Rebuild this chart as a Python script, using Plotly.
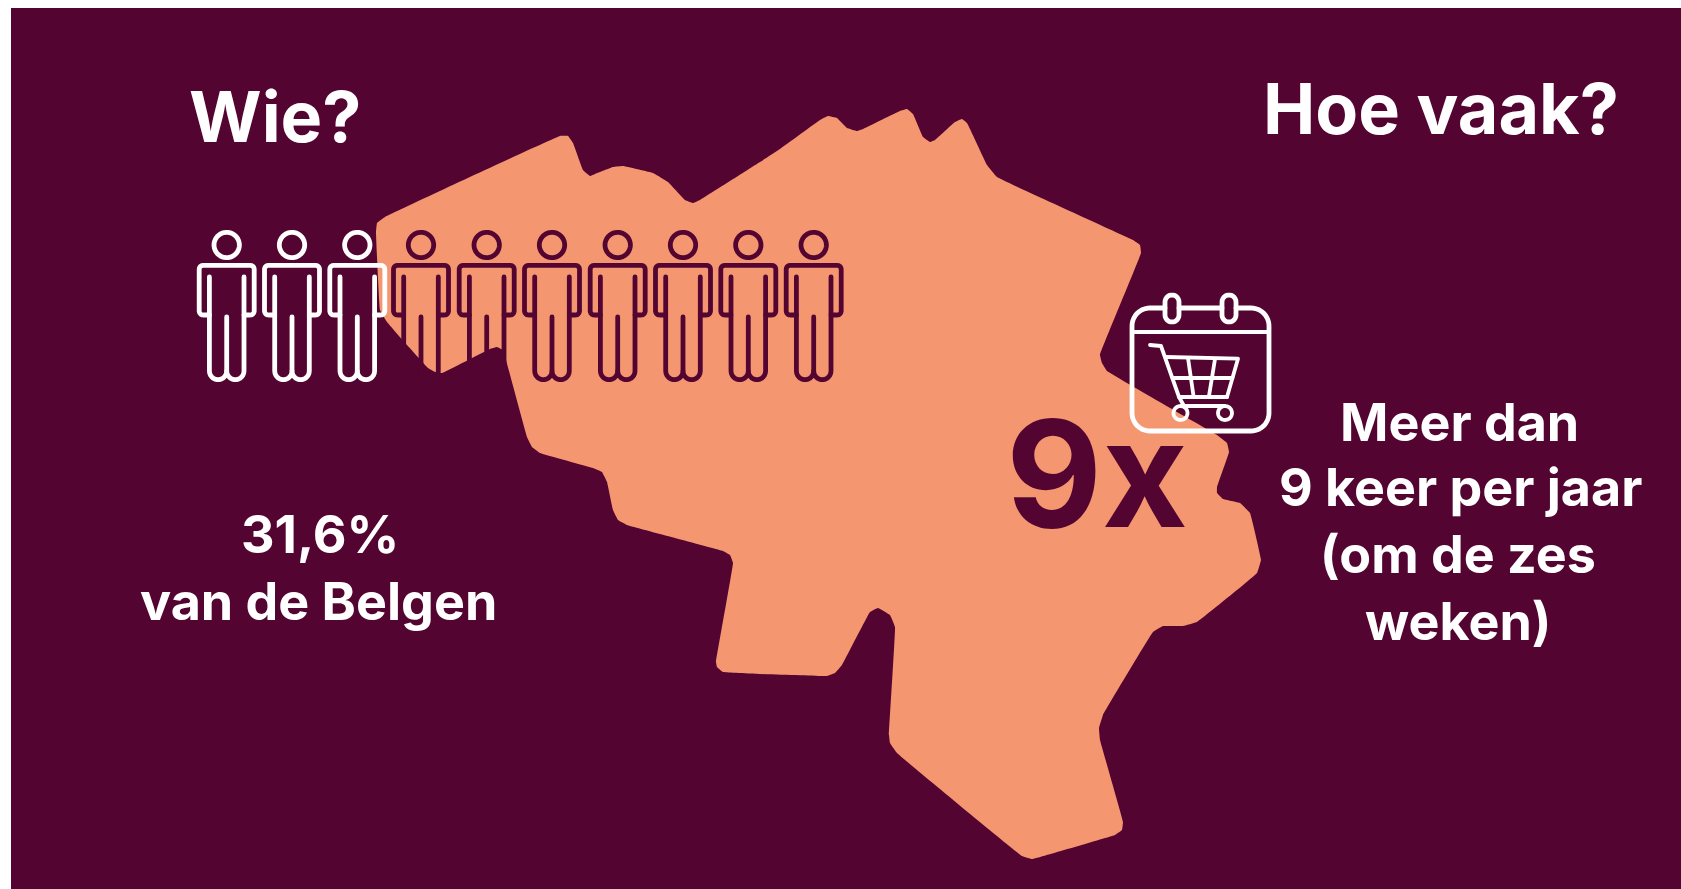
import numpy as np
import plotly.graph_objects as go

W, H = 1681, 889
MAROON = "#540431"
PEACH = "#F49771"
WHITE = "#FFFFFF"

# outline of the country
map_x = [376,377,385,560,568,573,583,590,595,613,623,653,668,685,693,700,760,780,820,828,837,847,857,863,900,907,913,923,930,935,955,962,967,987,997,1133,1140,1141,1100,1102,1107,1217,1227,1229,1217,1217,1223,1240,1250,1261,1257,1197,1183,1163,1153,1103,1099,1100,1123,1122,1115,1040,1032,1022,897,890,889,895,890,878,870,842,835,827,723,717,716,733,730,723,627,618,613,607,602,593,540,532,527,506,503,497,490,442,435,428,407,387,380,376]
map_y = [232,223,217,136,136,143,170,176,174,167,166,173,182,200,203,200,162,149,120,116,118,128,131,129,111,109,114,137,142,140,122,119,123,165,177,240,245,253,355,363,371,435,443,452,487,493,499,503,513,560,573,622,626,626,632,715,728,740,822,830,835,857,859,856,753,743,735,627,615,608,612,665,673,676,672,667,662,563,555,551,525,520,510,482,472,468,453,447,437,360,350,347,349,373,372,368,345,322,310,232]

# pictogram row
person_x = [226.7,292,357.3,421,486.7,552,617.7,683,748.3,813.7]
person_colors = [WHITE]*3 + [MAROON]*7

# texts: (text, x, y, size, colour)
texts = ["Wie?","Hoe vaak?","31,6%","van de Belgen","Meer dan","9 keer per jaar","(om de zes","weken)","9x"]
text_x = [275,1441,320,318,1459,1460,1458,1458,1097]
text_y = [116,108,534,601,422,487,554,621,473]
text_size = [70,70,52,52,52,52,52,52,148]
text_color = [WHITE]*8 + [MAROON]


def arc(cx, cy, r, a0, a1, n=14):
    a = np.radians(np.linspace(a0, a1, n))
    return (cx + r*np.cos(a)).tolist(), (cy + r*np.sin(a)).tolist()


fig = go.Figure()
fig.add_trace(go.Scatter(x=map_x, y=map_y, mode="lines", fill="toself", fillcolor=PEACH,
                         line=dict(width=0, color=PEACH, shape="spline", smoothing=0.2, simplify=False),
                         hoverinfo="skip"))


def stroke(xs, ys, color, width):
    fig.add_trace(go.Scatter(x=xs, y=ys, mode="lines",
                             line=dict(color=color, width=width, simplify=False), hoverinfo="skip"))


def person(cx, color):
    w = 4.8
    hx, hy = arc(cx, 245, 12.7, 0, 360, 40)
    stroke(hx, hy, color, w)
    # legs
    lx1, ly1 = arc(cx-8.65, 371, 8.65, 180, 0)
    lx2, ly2 = arc(cx+8.65, 371, 8.65, 180, 0)
    stroke([cx-17.3] + lx1 + lx2 + [cx+17.3], [277] + ly1 + ly2 + [277], color, w)
    stroke([cx, cx], [317, 371], color, w)
    # shoulders and arms
    a1x, a1y = arc(cx-23.5, 311, 4, 90, 180, 6)
    a2x, a2y = arc(cx-23.5, 269.3, 4, 180, 270, 6)
    a3x, a3y = arc(cx+23.5, 269.3, 4, 270, 360, 6)
    a4x, a4y = arc(cx+23.5, 311, 4, 0, 90, 6)
    stroke([cx-17.3]+a1x+a2x+a3x+a4x+[cx+17.3], [315]+a1y+a2y+a3y+a4y+[315], color, w)


for px_, col in zip(person_x, person_colors):
    person(px_, col)


# calendar with basket
def calendar():
    c = WHITE
    l, r, t, b, rad = 1132, 1269, 308, 431, 18
    x1, y1 = arc(l+rad, t+rad, rad, 180, 270)
    x2, y2 = arc(r-rad, t+rad, rad, 270, 360)
    x3, y3 = arc(r-rad, b-rad, rad, 0, 90)
    x4, y4 = arc(l+rad, b-rad, rad, 90, 180)
    stroke([1165]+x1[::-1]+x4[::-1]+x3[::-1]+x2[::-1]+[1236], [t]+y1[::-1]+y4[::-1]+y3[::-1]+y2[::-1]+[t], c, 4.8)
    stroke([1179, 1222], [t, t], c, 4.8)
    stroke([l, r], [332, 332], c, 3.8)
    for cx in (1172, 1229):
        u_x, u_y = arc(cx, 302, 7, 180, 360)
        d_x, d_y = arc(cx, 315, 7, 0, 180)
        stroke(u_x+d_x+[u_x[0]], u_y+d_y+[u_y[0]], c, 4.8)
    w = 3.8
    stroke([1150,1161,1179,1227], [345,346,397,397], c, w)   # handle and floor
    stroke([1166,1238,1227], [357,358.7,397], c, w)          # basket rim and right side
    stroke([1172.5,1232.5], [378,378], c, w)
    stroke([1188,1193.5], [358,396], c, w)
    stroke([1215,1209], [359,396], c, w)
    stroke([1179,1184,1224], [397,406,406], c, w)
    for cx in (1180.5, 1225):
        wx, wy = arc(cx, 413, 7, 0, 360, 30)
        stroke(wx, wy, c, w)


calendar()

for t, x, y, s, c in zip(texts, text_x, text_y, text_size, text_color):
    fig.add_annotation(x=x, y=y, xref="x", yref="y", text=t, showarrow=False,
                       xanchor="center", yanchor="middle",
                       font=dict(family="Inter", size=s, color=c, weight=700))

fig.update_layout(
    width=W, height=H, margin=dict(l=0, r=0, t=0, b=0),
    paper_bgcolor=WHITE, plot_bgcolor=WHITE, showlegend=False,
    xaxis=dict(range=[0, W], visible=False, fixedrange=True),
    yaxis=dict(range=[H, 0], visible=False, fixedrange=True),
    shapes=[dict(type="rect", xref="x", yref="y", x0=11, x1=W, y0=8, y1=H,
                 fillcolor=MAROON, line=dict(width=0), layer="below")],
)
post = ("document.body.style.margin='0';document.body.style.overflow='hidden';"
        "var s=document.createElement('style');"
        "s.textContent='.js-line{stroke-linecap:round;stroke-linejoin:round}';"
        "document.head.appendChild(s);")
fig.write_html("out.html", config={"displayModeBar": False}, post_script=post)
